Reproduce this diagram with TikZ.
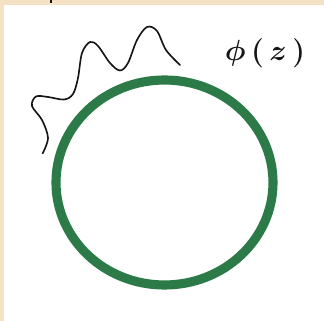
\documentclass[tikz,border=0pt]{standalone}
\usepackage{xcolor}
\usepackage{tikz}
\definecolor{SkPaper}{HTML}{F5E1C4}
\definecolor{SkGreen}{HTML}{2B7A47}
\definecolor{SkInk}{HTML}{151515}

\begin{document}
\begin{tikzpicture}[x=0.03cm,y=-0.03cm]
\path[use as bounding box] (0,0) rectangle (324,321);
\fill[white] (0,0) rectangle (324,321);
\fill[SkPaper] (0,0) rectangle (324,5);
\fill[SkPaper] (0,0) rectangle (4,321);
\fill[SkInk] (50.5,0) rectangle (52,3);
% boundary circle
\draw[SkGreen,line width=7.8pt] (164.5,182.5) ellipse [x radius=108.5,y radius=102.5];
% wiggle
\draw[SkInk,line width=1.4pt,line cap=round] plot[smooth,tension=0.55] coordinates {
  (42.7,153.3) (48,138) (42,120) (32,106) (36,96.5) (48,97) (64,99.5) (73,94)
  (78,78) (82,53) (90,42) (98,46) (110,63) (120,70.5) (128,63) (137,40) (147,27)
  (157,31) (166,50) (180,65)};
\node[SkInk,font=\fontsize{24}{26}\selectfont\boldmath] (phi) at (265,53) {$\phi\,(\,z\,)$};
\end{tikzpicture}
\end{document}
